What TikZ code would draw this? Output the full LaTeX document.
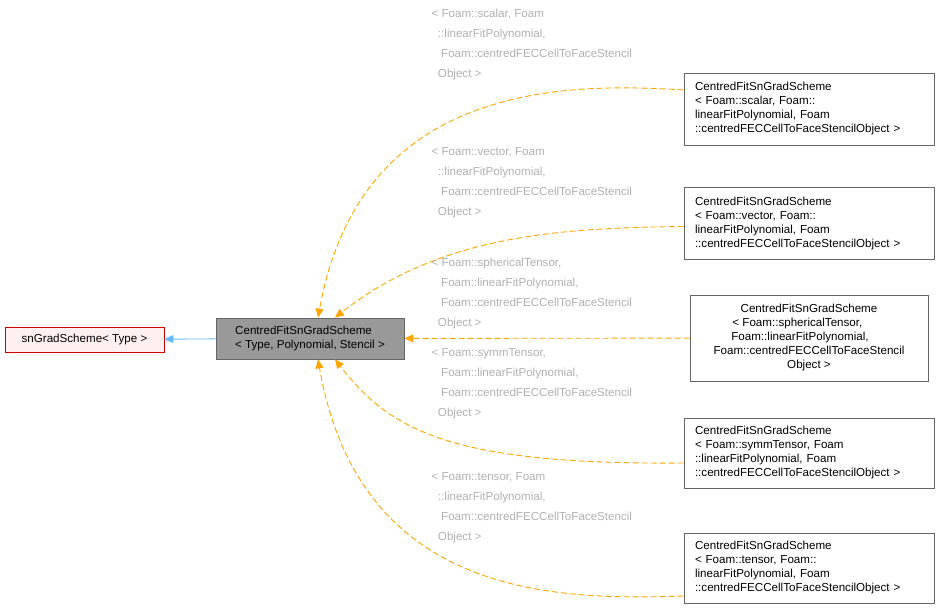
\documentclass[tikz,border=0pt]{standalone}
\usepackage{fontspec}
\setmainfont{Liberation Sans}
\usetikzlibrary{arrows.meta}
\definecolor{edgeorange}{HTML}{FFA500}
\definecolor{edgeblue}{HTML}{63B8FF}
\definecolor{lblgray}{HTML}{B0B0B0}
\tikzset{
  box/.style={draw=black!60, line width=0.8pt, fill=white, inner xsep=11pt, inner ysep=0pt, align=left, font=\fontsize{11.6}{14}\selectfont},
  inh/.style={-{Triangle[length=9pt,width=8pt]}, edgeorange, line width=0.9pt, dash pattern=on 6pt off 3pt},
  lbl/.style={lblgray, align=left, anchor=north west, font=\fontsize{11.6}{20}\selectfont}
}
\begin{document}
\begin{tikzpicture}[x=1pt,y=-1pt]
  \useasboundingbox (0,0) rectangle (940,609);

  % base and center
  \node[box, draw=red!80!black, fill=red!6, minimum width=159pt, minimum height=25pt, align=center] (base) at (84.5,339.5) {snGradScheme\textless{} Type \textgreater};
  \node[box, fill=black!40, minimum width=188pt, minimum height=41pt] (main) at (310,338.5) {CentredFitSnGradScheme\\\textless{} Type, Polynomial, Stencil \textgreater};
  \draw[-{Triangle[length=9pt,width=8pt]}, edgeblue, line width=0.9pt] (main) -- (base);

  % derived classes
  \node[box, minimum width=250pt, minimum height=72pt, text width=228pt] (rScalar) at (809,109) {CentredFitSnGradScheme\\\textless{} Foam::scalar, Foam::\\linearFitPolynomial, Foam\\::centredFECCellToFaceStencilObject \textgreater};
  \node[box, minimum width=250pt, minimum height=72pt, text width=228pt] (rVector) at (809,223.5) {CentredFitSnGradScheme\\\textless{} Foam::vector, Foam::\\linearFitPolynomial, Foam\\::centredFECCellToFaceStencilObject \textgreater};
  \node[box, minimum width=238pt, minimum height=86pt, align=center] (rSph) at (809,338) {CentredFitSnGradScheme\\\textless{} Foam::sphericalTensor,\hphantom{lllllllll}\\Foam::linearFitPolynomial,\hphantom{lllllll}\\Foam::centredFECCellToFaceStencil\\Object \textgreater};
  \node[box, minimum width=250pt, minimum height=70pt, text width=228pt] (rSymm) at (809,453) {CentredFitSnGradScheme\\\textless{} Foam::symmTensor, Foam\\::linearFitPolynomial, Foam\\::centredFECCellToFaceStencilObject \textgreater};
  \node[box, minimum width=250pt, minimum height=70pt, text width=228pt] (rTensor) at (809,568) {CentredFitSnGradScheme\\\textless{} Foam::tensor, Foam::\\linearFitPolynomial, Foam\\::centredFECCellToFaceStencilObject \textgreater};

  % edges
  \draw[inh] ([yshift=19pt]rScalar.west) .. controls (560,82) and (360,85) .. ([xshift=8pt]main.north);
  \draw[inh] ([yshift=-3pt]rVector.west) .. controls (560,228) and (440,235) .. ([xshift=25pt]main.north);
  \draw[inh] (rSph) -- (main);
  \draw[inh] ([yshift=-10pt]rSymm.west) .. controls (450,465) and (390,430) .. ([xshift=25pt]main.south);
  \draw[inh] ([yshift=-28pt]rTensor.west) .. controls (560,600) and (360,600) .. ([xshift=8pt]main.south);

  % edge labels
  \node[lbl] (lScalar) at (428,6) {\textless{} Foam::scalar, Foam\\\ \ ::linearFitPolynomial,\\\ \ \ Foam::centredFECCellToFaceStencil\\\ \ Object \textgreater};
  \node[lbl] (lVector) at (428,144) {\textless{} Foam::vector, Foam\\\ \ ::linearFitPolynomial,\\\ \ \ Foam::centredFECCellToFaceStencil\\\ \ Object \textgreater};
  \node[lbl] (lSph) at (428,255) {\textless{} Foam::sphericalTensor,\\\ \ \ Foam::linearFitPolynomial,\\\ \ \ Foam::centredFECCellToFaceStencil\\\ \ Object \textgreater};
  \node[lbl] (lSymm) at (428,345) {\textless{} Foam::symmTensor,\\\ \ \ Foam::linearFitPolynomial,\\\ \ \ Foam::centredFECCellToFaceStencil\\\ \ Object \textgreater};
  \node[lbl] (lTensor) at (428,469) {\textless{} Foam::tensor, Foam\\\ \ ::linearFitPolynomial,\\\ \ \ Foam::centredFECCellToFaceStencil\\\ \ Object \textgreater};
\end{tikzpicture}
\end{document}
